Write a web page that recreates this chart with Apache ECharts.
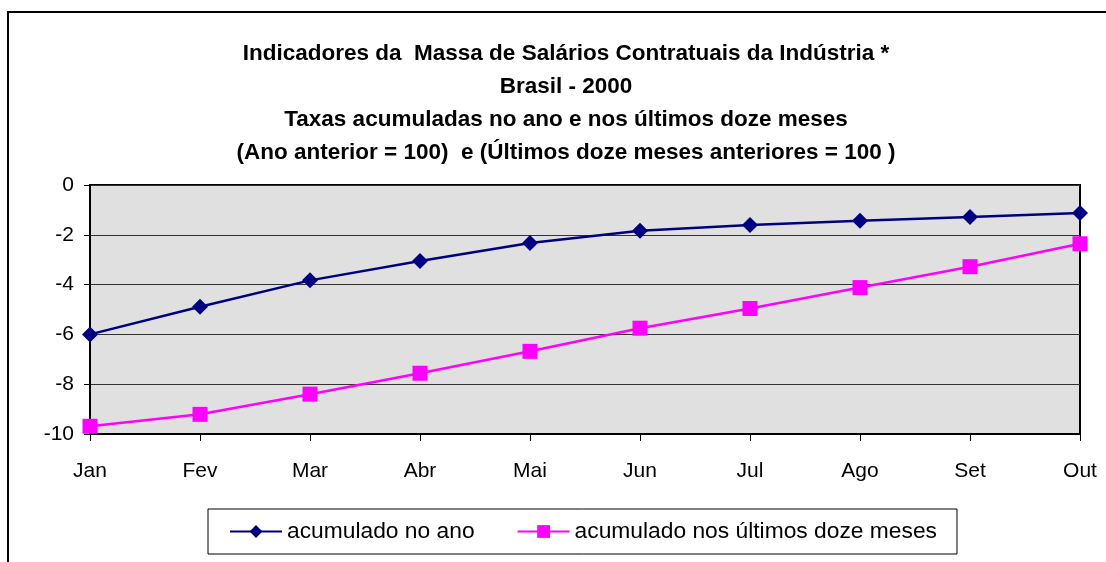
<!DOCTYPE html>
<html>
<head>
<meta charset="utf-8">
<script src="https://cdn.jsdelivr.net/npm/echarts@6/dist/echarts.min.js"></script>
<style>
html,body{margin:0;padding:0;background:#fff;}
#c{width:1106px;height:562px;}
</style>
</head>
<body>
<div id="c"></div>
<script>
var categories = ['Jan','Fev','Mar','Abr','Mai','Jun','Jul','Ago','Set','Out'];
var acumuladoAno = [-6.0, -4.89, -3.83, -3.05, -2.33, -1.84, -1.61, -1.44, -1.29, -1.12];
var acumulado12m = [-9.69, -9.21, -8.40, -7.56, -6.68, -5.75, -4.96, -4.12, -3.28, -2.36];
var seriesNames = ['acumulado no ano', 'acumulado nos últimos doze meses'];
var titleText = 'Indicadores da  Massa de Salários Contratuais da Indústria *\nBrasil - 2000\nTaxas acumuladas no ano e nos últimos doze meses\n(Ano anterior = 100)  e (Últimos doze meses anteriores = 100 )';

var FONT = '"Liberation Sans", Arial, sans-serif';
var chart = echarts.init(document.getElementById('c'), null, {renderer:'canvas'});
chart.setOption({
  animation: false,
  backgroundColor: '#ffffff',
  textStyle: {fontFamily: FONT},
  graphic: [{
    type: 'rect', silent: true, z: 100,
    shape: {x: 8, y: 12, width: 1200, height: 700},
    style: {fill: 'none', stroke: '#000', lineWidth: 2}
  }],
  title: {
    text: titleText,
    left: 566,
    top: 37,
    textAlign: 'center',
    padding: 0,
    textStyle: {fontFamily: FONT, fontSize: 22.5, fontWeight: 'bold', color: '#000', lineHeight: 33}
  },
  grid: {
    left: 90, right: 26, top: 185, bottom: 128,
    show: true, backgroundColor: '#e0e0e0', borderColor: '#000', borderWidth: 2,
    containLabel: false
  },
  legend: {
    left: 208, top: 509,
    padding: [11, 20, 11, 21],
    itemGap: 42,
    itemWidth: 52, itemHeight: 16,
    backgroundColor: '#fff', borderColor: '#000', borderWidth: 1, borderRadius: 0,
    textStyle: {fontFamily: FONT, fontSize: 22.8, color: '#000'},
    data: seriesNames
  },
  xAxis: {
    type: 'category',
    data: categories,
    boundaryGap: false,
    axisLine: {onZero: false, lineStyle: {color: '#000', width: 2}},
    axisTick: {show: true, alignWithLabel: true, length: 7, lineStyle: {color: '#000', width: 1}},
    axisLabel: {fontFamily: FONT, fontSize: 21, color: '#000', margin: 27},
    splitLine: {show: false}
  },
  yAxis: {
    type: 'value',
    min: -10, max: 0, interval: 2,
    axisLine: {show: true, lineStyle: {color: '#000', width: 2}},
    axisTick: {show: true, length: 6, lineStyle: {color: '#000', width: 1}},
    axisLabel: {fontFamily: FONT, fontSize: 21, color: '#000', margin: 16},
    splitLine: {show: true, lineStyle: {color: '#333', width: 1}}
  },
  series: [
    {
      name: seriesNames[0], type: 'line', data: acumuladoAno,
      symbol: 'diamond', symbolSize: 16,
      lineStyle: {color: '#000080', width: 2.5},
      itemStyle: {color: '#000080'}
    },
    {
      name: seriesNames[1], type: 'line', data: acumulado12m,
      symbol: 'rect', symbolSize: 15,
      lineStyle: {color: '#ff00ff', width: 2.5},
      itemStyle: {color: '#ff00ff'}
    }
  ]
});
</script>
</body>
</html>
